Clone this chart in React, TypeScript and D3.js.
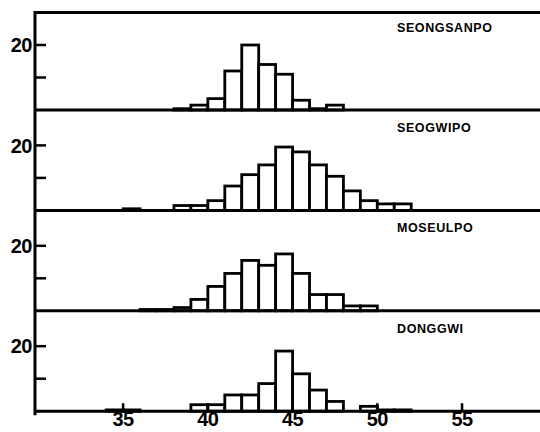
import React from 'react';
import * as d3 from 'd3';

// bin start values (bins are 1 unit wide)
const binStarts = [34, 35, 36, 37, 38, 39, 40, 41, 42, 43, 44, 45, 46, 47, 48, 49, 50, 51];

const stations = ['SEONGSANPO', 'SEOGWIPO', 'MOSEULPO', 'DONGGWI'];

const seongsanpo = [0, 0, 0, 0, 0.4, 1.5, 3.5, 12, 20, 14, 11, 3, 0.4, 1.5, 0, 0, 0, 0];
const seogwipo = [0, 0.5, 0, 0, 1.5, 1.5, 3, 7.5, 11, 14, 19.5, 18, 14, 10.5, 6, 3, 2, 2];
const moseulpo = [0, 0, 0.4, 0.4, 1, 3.5, 7.5, 11.5, 15.5, 14, 17.5, 11.5, 5, 5, 1.5, 1.5, 0, 0];
const donggwi = [0.4, 0.4, 0, 0, 0, 2, 2, 5, 5, 8.5, 18.5, 11.5, 6.5, 3, 0, 1.5, 0.4, 0.4];

const seriesList = [seongsanpo, seogwipo, moseulpo, donggwi];

const xTicks = [35, 40, 45, 50, 55];
const yTicks = [10, 20];
const yLabels = [20];

const W = 540;
const H = 432;
const FONT = '"Liberation Sans", Arial, Helvetica, sans-serif';

const App: React.FC = () => {
  const x = d3.scaleLinear().domain([29.8, 59.6]).range([35, 540]);
  const firstBase = 110;
  const step = 100.4;
  const panelH = 97.5;
  const lastBase = firstBase + step * 3;

  return (
    <svg
      width={W}
      height={H}
      style={{ position: 'absolute', left: 0, top: 0, background: '#fff' }}
    >
      {seriesList.map((vals, i) => {
        const base = firstBase + step * i;
        const y = d3.scaleLinear().domain([0, 30]).range([base, base - panelH]);
        return (
          <g key={stations[i]}>
            {vals.map((v, j) =>
              v > 0 ? (
                <rect
                  key={j}
                  x={x(binStarts[j])}
                  y={y(v)}
                  width={x(binStarts[j] + 1) - x(binStarts[j])}
                  height={y(0) - y(v)}
                  fill="#fff"
                  stroke="#000"
                  strokeWidth={2.8}
                />
              ) : null
            )}
            {/* baseline of panel */}
            <line x1={x.range()[0]} x2={W} y1={base} y2={base} stroke="#000" strokeWidth={3} />
            {yTicks.map(t => (
              <line
                key={t}
                x1={x.range()[0]}
                x2={x.range()[0] + 11}
                y1={y(t)}
                y2={y(t)}
                stroke="#000"
                strokeWidth={2.5}
              />
            ))}
            {yLabels.map(t => (
              <text
                key={t}
                x={32}
                y={y(t)}
                dy="0.36em"
                textAnchor="end"
                fontFamily={FONT}
                fontWeight="bold"
                fontSize={20}
                letterSpacing={-0.5}
              >
                {t}
              </text>
            ))}
            <text
              x={397}
              y={base - panelH + 19}
              fontFamily={FONT}
              fontWeight="bold"
              fontSize={12.5}
              letterSpacing={0.6}
            >
              {stations[i]}
            </text>
          </g>
        );
      })}

      {/* top border and left axis */}
      <line x1={x.range()[0]} x2={W} y1={firstBase - panelH} y2={firstBase - panelH} stroke="#000" strokeWidth={3} />
      <line x1={x.range()[0]} x2={x.range()[0]} y1={firstBase - panelH - 1.5} y2={lastBase + 4} stroke="#000" strokeWidth={3} />

      {/* x axis ticks and labels */}
      {xTicks.map(t => (
        <g key={t}>
          <line x1={x(t)} x2={x(t)} y1={lastBase} y2={lastBase - 8} stroke="#000" strokeWidth={2.5} />
          <text
            x={x(t)}
            y={426}
            textAnchor="middle"
            fontFamily={FONT}
            fontWeight="bold"
            fontSize={20}
            letterSpacing={-0.5}
          >
            {t}
          </text>
        </g>
      ))}
    </svg>
  );
};

export default App;
